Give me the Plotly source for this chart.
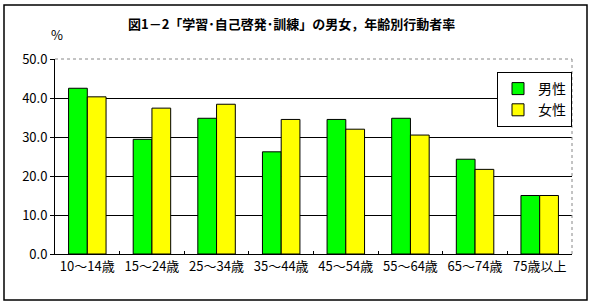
import plotly.graph_objects as go

categories = ["10～14歳", "15～24歳", "25～34歳", "35～44歳", "45～54歳", "55～64歳", "65～74歳", "75歳以上"]
male = [42.5, 29.4, 34.8, 26.2, 34.5, 34.8, 24.3, 15.0]
female = [40.3, 37.4, 38.4, 34.5, 32.0, 30.5, 21.7, 15.0]
title_text = "図1－2「学習･自己啓発･訓練」の男女，年齢別行動者率"

FONT = "Noto Sans CJK JP"

fig = go.Figure()
fig.add_trace(go.Bar(name="男性", x=categories, y=male,
                     marker=dict(color="#00FF00", line=dict(color="black", width=1))))
fig.add_trace(go.Bar(name="女性", x=categories, y=female,
                     marker=dict(color="#FFFF00", line=dict(color="black", width=1))))

W, H = 594, 306
L, R, T, B = 55, 22, 59, 52
pw, ph = W - L - R, H - T - B

def px_x(x):
    return (x - L) / pw

def px_y(y):
    return (H - B - y) / ph

fig.update_layout(
    width=W, height=H,
    margin=dict(l=L, r=R, t=T, b=B),
    paper_bgcolor="white", plot_bgcolor="white",
    font=dict(family=FONT, size=12, color="black"),
    barmode="group", bargap=0.42, bargroupgap=0,
    showlegend=True,
    legend=dict(x=1.0, y=px_y(72), xanchor="right", yanchor="top",
                bgcolor="white", bordercolor="black", borderwidth=1,
                font=dict(size=14, family=FONT), itemwidth=30,
                tracegroupgap=0),
    xaxis=dict(showline=True, linecolor="black", linewidth=1,
               ticks="inside", ticklen=3, tickson="boundaries", tickcolor="black",
               tickfont=dict(size=13, family=FONT), showgrid=False),
    yaxis=dict(range=[0, 50], dtick=10, tickformat=".1f",
               showline=True, linecolor="black", linewidth=1,
               ticks="outside", ticklen=4, tickcolor="black",
               showgrid=True, gridcolor="black", gridwidth=1,
               tickfont=dict(size=13, family=FONT), zeroline=False),
    annotations=[
        dict(text="<b>" + title_text + "</b>", xref="paper", yref="paper",
             x=px_x(291), y=px_y(24), xanchor="center", yanchor="middle",
             showarrow=False, font=dict(size=13, family=FONT)),
        dict(text="%", xref="paper", yref="paper",
             x=px_x(57), y=px_y(34), xanchor="center", yanchor="middle",
             showarrow=False, font=dict(size=13, family=FONT)),
    ],
    shapes=[
        dict(type="rect", xref="paper", yref="paper",
             x0=px_x(4), x1=px_x(587), y0=px_y(300), y1=px_y(5),
             line=dict(color="black", width=1.5), layer="below"),
        dict(type="line", xref="paper", yref="paper", x0=0, x1=1, y0=1, y1=1,
             line=dict(color="#888888", width=1, dash="dot")),
        dict(type="line", xref="paper", yref="paper", x0=1, x1=1, y0=0, y1=1,
             line=dict(color="#888888", width=1, dash="dot")),
    ],
)

fig.write_html("out.html")
